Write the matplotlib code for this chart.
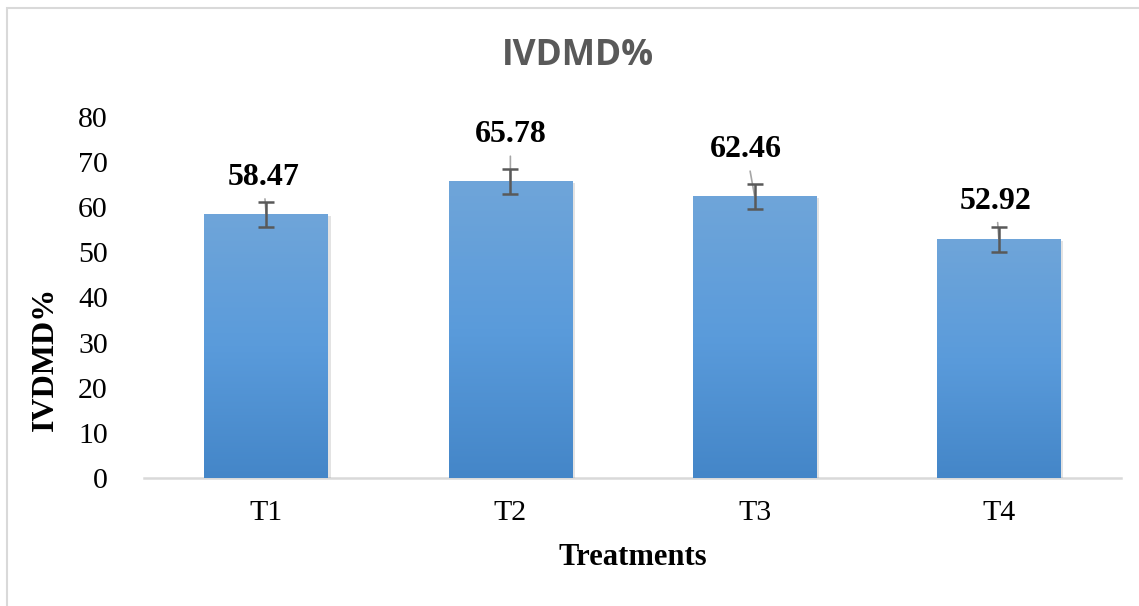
import numpy as np
import matplotlib
matplotlib.use("Agg")
import matplotlib.pyplot as plt
import matplotlib.patheffects as pe
from matplotlib.colors import LinearSegmentedColormap
from matplotlib.patches import Rectangle

# data
treatments = ["T1", "T2", "T3", "T4"]
ivdmd = [58.47, 65.78, 62.46, 52.92]
errors = [2.75, 2.75, 2.75, 2.8]

# label placement: baseline height above bar top (points) and horizontal nudge (points)
label_dy = [21, 28, 28, 22]
label_dx = [-2, 0, -6, -2]

fig = plt.figure(figsize=(11.39, 6.06), dpi=100)
fig.patches.append(Rectangle((7/1139, -0.05), 1.0, 1.05 - 8/606, transform=fig.transFigure,
                             fill=False, edgecolor="#d9d9d9", linewidth=1.5, zorder=0))
ax = fig.add_axes([144/1139, 128/606, 977/1139, 361/606])

x = np.arange(len(treatments))
bars = ax.bar(x, ivdmd, width=0.505, color="#5b9bd5", zorder=2,
              path_effects=[pe.SimplePatchShadow(offset=(2, -1.5), shadow_rgbFace="#909090", alpha=0.25),
                            pe.Normal()])

# vertical gradient like the Excel fill
cmap = LinearSegmentedColormap.from_list("blu", ["#4486c8", "#5a9bdb", "#6fa5d9"])
grad = np.linspace(0, 1, 256).reshape(-1, 1)
for b in bars:
    x0, w, h = b.get_x(), b.get_width(), b.get_height()
    ax.imshow(grad, extent=[x0, x0 + w, 0, h], origin="lower", cmap=cmap,
              aspect="auto", zorder=3, interpolation="bicubic")

ax.errorbar(x, ivdmd, yerr=errors, fmt="none", ecolor="#595959", elinewidth=1.8,
            capsize=6, capthick=1.8, zorder=4)

for i, v in enumerate(ivdmd):
    ax.annotate(f"{v:.2f}", xy=(x[i], v), xytext=(label_dx[i], label_dy[i]),
                textcoords="offset points", ha="center", va="baseline",
                fontsize=23, fontweight="bold", family="Liberation Serif", color="black", zorder=3.5,
                arrowprops=dict(arrowstyle="-", color="#a6a6a6", lw=1.2, shrinkA=3, shrinkB=0))

ax.set_xlim(-0.5, 3.5)
ax.set_ylim(0, 80)
ax.set_yticks(range(0, 81, 10))
ax.set_xticks(x)
ax.set_xticklabels(treatments)
ax.tick_params(axis="both", length=0, labelsize=21.5)
ax.tick_params(axis="y", pad=26)
ax.tick_params(axis="x", pad=16)
for lab in ax.get_xticklabels() + ax.get_yticklabels():
    lab.set_family("Liberation Serif")

for s in ["top", "right", "left"]:
    ax.spines[s].set_visible(False)
ax.spines["bottom"].set_color("#d9d9d9")
ax.spines["bottom"].set_linewidth(1.8)
ax.spines["bottom"].set_zorder(1)

ax.set_xlabel("Treatments", fontsize=22, fontweight="bold", family="Liberation Serif", labelpad=12)
ax.set_ylabel("IVDMD%", fontsize=23, fontweight="bold", family="Liberation Serif")
ax.yaxis.set_label_coords(-84/977, 0.33)

fig.text(578/1139, 1 - 56/606, "IVDMD%", ha="center", va="center", fontsize=25.5,
         fontweight="bold", family="Open Sans", color="#595959")

fig.savefig("out.png", dpi=100)
